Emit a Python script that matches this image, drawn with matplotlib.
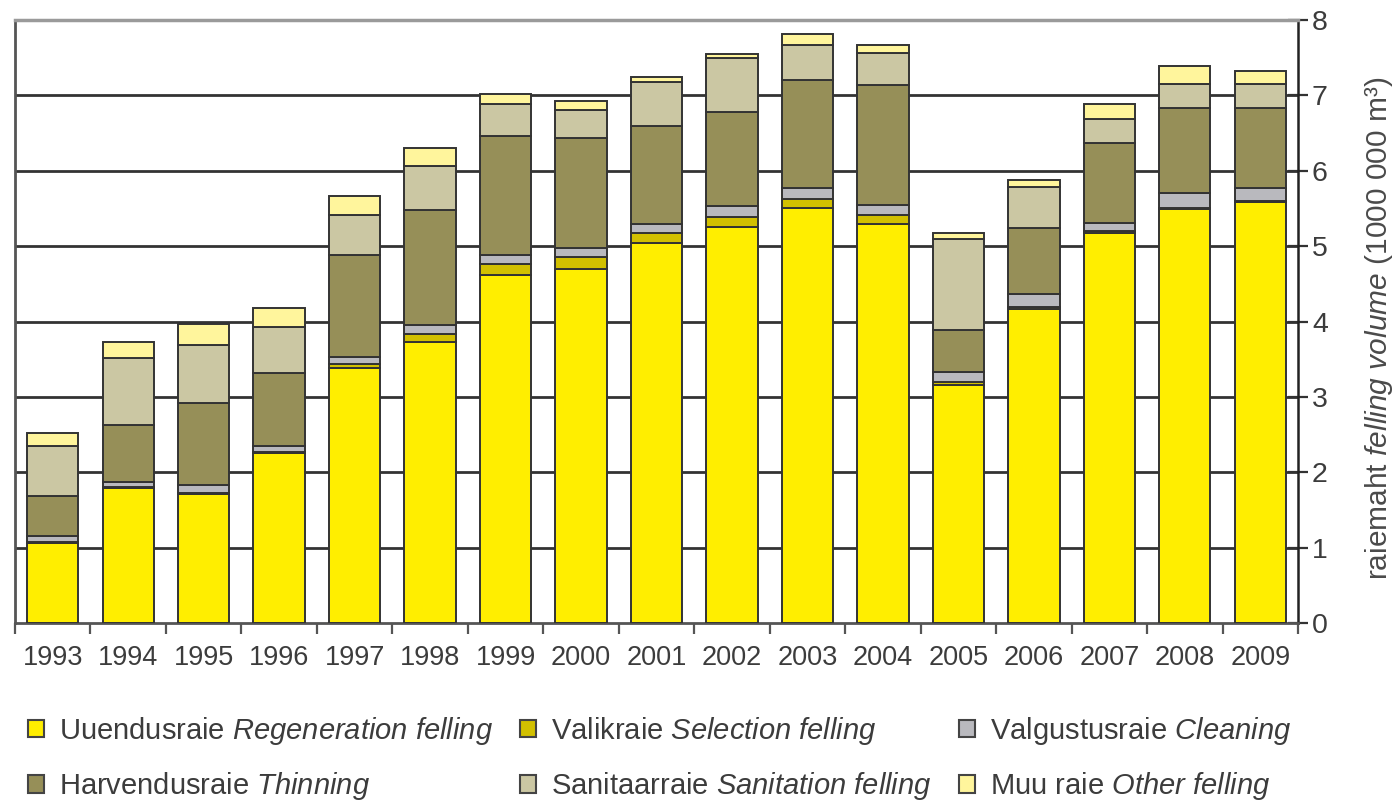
import matplotlib
matplotlib.use("Agg")
import matplotlib.pyplot as plt
from matplotlib import font_manager
from matplotlib.patches import Rectangle
import numpy as np

years = ["1993", "1994", "1995", "1996", "1997", "1998", "1999", "2000", "2001",
         "2002", "2003", "2004", "2005", "2006", "2007", "2008", "2009"]

regeneration = [1.06, 1.79, 1.71, 2.25, 3.38, 3.73, 4.62, 4.69, 5.04, 5.26, 5.51, 5.29, 3.16, 4.17, 5.17, 5.49, 5.59]
selection    = [0.02, 0.02, 0.02, 0.02, 0.06, 0.11, 0.14, 0.17, 0.14, 0.12, 0.11, 0.12, 0.04, 0.02, 0.03, 0.01, 0.01]
cleaning     = [0.07, 0.06, 0.10, 0.08, 0.09, 0.12, 0.12, 0.11, 0.11, 0.15, 0.15, 0.13, 0.13, 0.17, 0.11, 0.21, 0.17]
thinning     = [0.53, 0.76, 1.09, 0.97, 1.35, 1.52, 1.58, 1.46, 1.31, 1.25, 1.43, 1.60, 0.56, 0.88, 1.06, 1.12, 1.06]
sanitation   = [0.67, 0.88, 0.77, 0.61, 0.53, 0.58, 0.43, 0.38, 0.58, 0.71, 0.47, 0.42, 1.20, 0.54, 0.31, 0.32, 0.32]
other        = [0.17, 0.22, 0.28, 0.25, 0.25, 0.24, 0.13, 0.11, 0.06, 0.06, 0.14, 0.11, 0.09, 0.10, 0.20, 0.24, 0.17]

series_labels = [
    r"Uuendusraie $\it{Regeneration\ felling}$",
    r"Valikraie $\it{Selection\ felling}$",
    r"Valgustusraie $\it{Cleaning}$",
    r"Harvendusraie $\it{Thinning}$",
    r"Sanitaarraie $\it{Sanitation\ felling}$",
    r"Muu raie $\it{Other\ felling}$",
]
series_colors = ["#FFEE00", "#D2C000", "#B9B9BE", "#968F58", "#CBC7A3", "#FFF59C"]
y_ticks = [0, 1, 2, 3, 4, 5, 6, 7, 8]
y_label = "raiemaht $\\it{felling\\ volume}$ (1000 000 m³)"

# fonts
names = {f.name for f in font_manager.fontManager.ttflist}
narrow = "Liberation Sans Narrow" in names
fam = "Liberation Sans Narrow" if narrow else "Liberation Sans"
scale = 24 / 19.5 if narrow else 1.0
fs_tick = 19.5 * scale
fs_leg = 21 * scale
fs_lab = 21.5 * scale
plt.rcParams["font.family"] = [fam, "DejaVu Sans"]
plt.rcParams["mathtext.fontset"] = "custom"
plt.rcParams["mathtext.rm"] = fam
plt.rcParams["mathtext.it"] = fam + ":italic"
plt.rcParams["mathtext.bf"] = fam + ":bold"
txt_color = "#3c3c3c"

fig = plt.figure(figsize=(13.98, 8.06), dpi=100)
ax = fig.add_axes([15 / 1398, 1 - 623 / 806, (1298 - 15) / 1398, (623 - 20) / 806])

x = np.arange(len(years))
data = [regeneration, selection, cleaning, thinning, sanitation, other]
bottom = np.zeros(len(years))
edge = "#333333"
for vals, col in zip(data, series_colors):
    v = np.array(vals)
    ax.bar(x, v, width=0.68, bottom=bottom, color=col, edgecolor=edge,
           linewidth=1.4, zorder=3)
    bottom += v

ax.set_xlim(-0.5, len(years) - 0.5)
ax.set_ylim(0, 8)

# gridlines
for yv in y_ticks[1:-1]:
    ax.axhline(yv, color="#333333", lw=2.0, zorder=1)

ax.spines["top"].set_color("#9a9a9a")
ax.spines["top"].set_linewidth(2.5)
ax.spines["left"].set_color("#555555")
ax.spines["left"].set_linewidth(2)
ax.spines["bottom"].set_color("#555555")
ax.spines["bottom"].set_linewidth(2)
ax.spines["right"].set_color("#222222")
ax.spines["right"].set_linewidth(1.8)

ax.yaxis.tick_right()
ax.set_yticks(y_ticks)
ax.set_yticklabels([str(t) for t in y_ticks])
ax.tick_params(axis="y", direction="inout", length=14, width=1.6, colors="#333333",
               labelcolor=txt_color, labelsize=fs_tick + 1, pad=3)

ax.set_xticks(x)
ax.set_xticklabels(years)
ax.set_xticks(np.arange(-0.5, len(years), 1.0), minor=True)
ax.tick_params(axis="x", which="major", length=0, labelsize=fs_tick, labelcolor=txt_color, pad=16)
ax.tick_params(axis="x", which="minor", direction="out", length=8, width=1.6, colors="#555555")

fig.text(0.986, 0.593, y_label, rotation=90, ha="center", va="center",
         fontsize=fs_lab, color="#4a4a4a")

# legend (row-major ordering)
handles = [Rectangle((0, 0), 1, 1, facecolor=c, edgecolor="#444444", linewidth=1.5)
           for c in series_colors]
order = [0, 3, 1, 4, 2, 5]
leg = fig.legend([handles[i] for i in order], [series_labels[i] for i in order],
                 ncol=3, loc="upper left", bbox_to_anchor=(28 / 1398, 1 - 715 / 806),
                 frameon=False, fontsize=fs_leg, handlelength=0.55, handleheight=0.55,
                 handletextpad=0.5, columnspacing=0.95, labelspacing=0.8,
                 borderaxespad=0, borderpad=0)
for t in leg.get_texts():
    t.set_color(txt_color)

fig.savefig("out.png", dpi=100)
